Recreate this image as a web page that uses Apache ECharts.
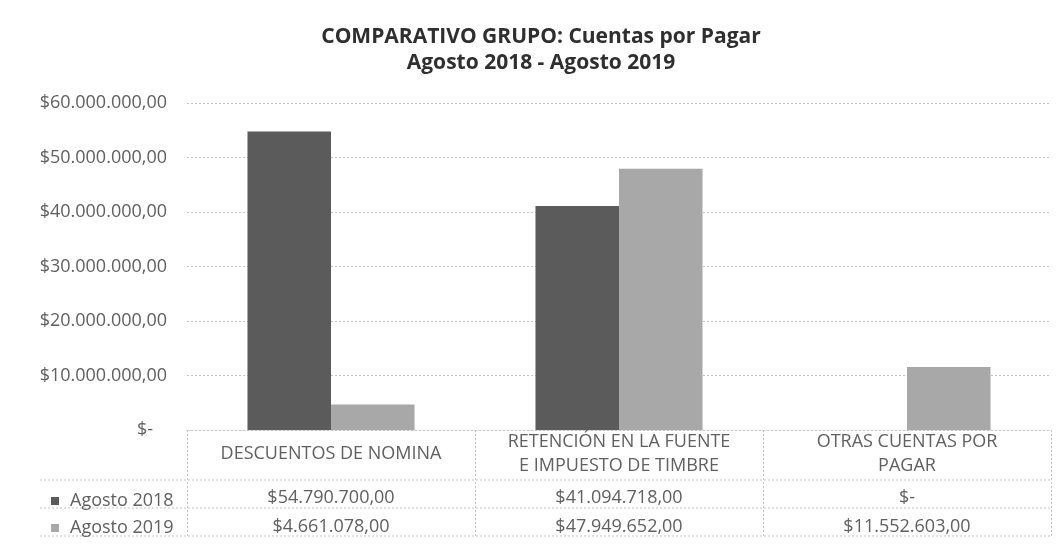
<!DOCTYPE html>
<html><head><meta charset="utf-8">
<script src="https://cdn.jsdelivr.net/npm/echarts@6/dist/echarts.min.js"></script>
<style>html,body{margin:0;padding:0;background:#fff}#c{width:1056px;height:546px}</style>
</head><body><div id="c"></div>
<script>
var categories = ['DESCUENTOS DE NOMINA', 'RETENCIÓN EN LA FUENTE\nE IMPUESTO DE TIMBRE', 'OTRAS CUENTAS POR\nPAGAR'];
var seriesNames = ['Agosto 2018', 'Agosto 2019'];
var agosto2018 = [54790700.00, 41094718.00, 0];
var agosto2019 = [4661078.00, 47949652.00, 11552603.00];
var yTicks = [0, 10000000, 20000000, 30000000, 40000000, 50000000, 60000000];
var titleLines = ['COMPARATIVO GRUPO: Cuentas por Pagar', 'Agosto 2018 - Agosto 2019'];

function fmt(v) {
  if (!v) return '$-';
  var s = v.toFixed(2).split('.');
  var i = s[0].replace(/\B(?=(\d{3})+(?!\d))/g, '.');
  return '$' + i + ',' + s[1];
}
var FONT = 'Open Sans';
var TXT = '#606060';
var FS = 18;
var c1 = '#5b5b5b', c2 = '#a8a8a8';
var chart = echarts.init(document.getElementById('c'), null, {renderer: 'canvas'});
var GL = 187, GR = 1051, GT = 103, GB = 430;
var dotted = {color: '#c4c4c4', type: [2, 2], width: 1};
chart.setOption({
  backgroundColor: '#fff',
  animation: false,
  title: {
    text: titleLines.join('\n'),
    left: 536, top: 19, textAlign: 'center',
    textStyle: {fontFamily: FONT, fontSize: 21, fontWeight: 'bold', color: '#2f2f2f', lineHeight: 26}
  },
  legend: {
    orient: 'vertical', left: 46, top: 487, itemGap: 9,
    itemWidth: 8, itemHeight: 8, icon: 'rect',
    textStyle: {fontFamily: FONT, fontSize: FS, color: TXT, padding: [0, 0, 0, 6]},
    data: seriesNames
  },
  grid: {left: GL, right: 1056 - GR, top: GT, bottom: 546 - GB, containLabel: false},
  xAxis: [{
    type: 'category', data: categories, position: 'bottom',
    axisLine: {show: true, lineStyle: dotted},
    axisTick: {show: true, length: 106, lineStyle: dotted},
    axisLabel: {fontFamily: FONT, fontSize: FS, color: TXT, margin: 24, verticalAlign: 'middle', lineHeight: 24, interval: 0}
  }, {
    type: 'category', data: categories, position: 'bottom',
    axisLine: {show: false}, axisTick: {show: false},
    axisLabel: {fontFamily: FONT, fontSize: FS, color: TXT, margin: 68, verticalAlign: 'middle', interval: 0,
      formatter: function (v, i) { return fmt(agosto2018[i]); }}
  }, {
    type: 'category', data: categories, position: 'bottom',
    axisLine: {show: false}, axisTick: {show: false},
    axisLabel: {fontFamily: FONT, fontSize: FS, color: TXT, margin: 97, verticalAlign: 'middle', interval: 0,
      formatter: function (v, i) { return fmt(agosto2019[i]); }}
  }],
  yAxis: {
    type: 'value', min: yTicks[0], max: yTicks[yTicks.length - 1], interval: yTicks[1] - yTicks[0],
    axisLine: {show: false}, axisTick: {show: false},
    splitLine: {show: true, lineStyle: dotted},
    axisLabel: {fontFamily: FONT, fontSize: FS, color: TXT, margin: 20,
      formatter: function (v) { return v === 0 ? '$-   ' : fmt(v); }}
  },
  series: [{
    name: seriesNames[0], type: 'bar', data: agosto2018, barGap: '0%', barCategoryGap: '42%',
    itemStyle: {color: c1}
  }, {
    name: seriesNames[1], type: 'bar', data: agosto2019, barGap: '0%', barCategoryGap: '42%',
    itemStyle: {color: c2}
  }],
  graphic: [
    {type: 'line', shape: {x1: 40, y1: 480, x2: GR, y2: 480}, style: {stroke: '#c4c4c4', lineDash: [2, 2]}},
    {type: 'line', shape: {x1: 40, y1: 508, x2: GR, y2: 508}, style: {stroke: '#c4c4c4', lineDash: [2, 2]}},
    {type: 'line', shape: {x1: 40, y1: 536, x2: GR, y2: 536}, style: {stroke: '#c4c4c4', lineDash: [2, 2]}}
  ]
});
</script></body></html>
